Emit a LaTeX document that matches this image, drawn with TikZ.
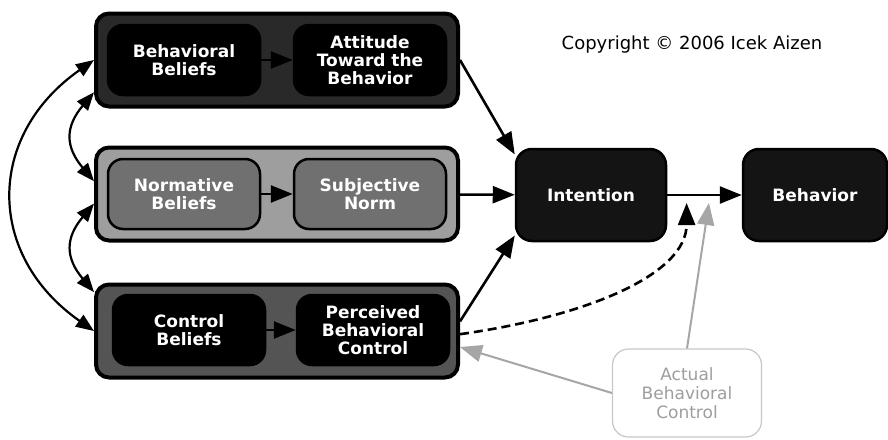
\documentclass[tikz,border=0pt]{standalone}
\usepackage{fontspec}
\setmainfont{DejaVu Sans}
\usetikzlibrary{arrows.meta,calc}
\begin{document}
\begin{tikzpicture}[
    x=1pt, y=-1pt,
    every node/.style={align=center, font=\fontsize{17}{18}\selectfont\bfseries},
    outerbox/.style={draw=black, line width=4pt, rounded corners=13pt,
        minimum width=362pt, minimum height=93pt},
    innerbox/.style={draw=black, line width=2.5pt, rounded corners=15pt,
        minimum width=152pt, minimum height=70pt, text=white, inner sep=2pt},
    bigbox/.style={draw=black, line width=2.5pt, fill=black!92, rounded corners=16pt,
        minimum width=150pt, minimum height=92pt, text=white},
    link/.style={line width=2.6pt, -{Triangle[length=22pt,width=17pt]}},
    both/.style={line width=2.2pt, {Triangle[length=18pt,width=14pt]}-{Triangle[length=18pt,width=14pt]}},
    ]
    \useasboundingbox (0,0) rectangle (888,439);
    \node[outerbox, fill=black!84] (attbox) at (277,60) {};
    \node[innerbox, fill=black] (bb) at (184,60) {Behavioral\\Beliefs};
    \node[innerbox, fill=black] (att) at (370,60) {Attitude\\Toward the\\Behavior};
    \node[outerbox, fill=black!38] (normbox) at (277,194) {};
    \node[innerbox, fill=black!56] (nb) at (184,194) {Normative\\Beliefs};
    \node[innerbox, fill=black!56] (sn) at (370,194) {Subjective\\Norm};
    \node[outerbox, fill=black!67] (ctrlbox) at (277,331) {};
    \node[innerbox, fill=black] (cb) at (189,330) {Control\\Beliefs};
    \node[innerbox, fill=black] (pbc) at (373,330) {Perceived\\Behavioral\\Control};
    \node[bigbox] (int) at (591,195) {Intention};
    \node[bigbox, minimum width=144pt] (beh) at (815,195) {Behavior};
    \node[draw=black!22, line width=1.2pt, rounded corners=16pt, fill=white,
        minimum width=149pt, minimum height=88pt, text=black!38,
        font=\fontsize{17}{19}\selectfont] (act) at (687,393) {Actual\\Behavioral\\Control};
    \node[font=\fontsize{18}{20}\selectfont] (copy) at (692,45) {Copyright © 2006 Icek Aizen};
    % arrows
    \draw[link] (bb) -- (att);
    \draw[link] (nb) -- (sn);
    \draw[link] (cb) -- (pbc);
    \draw[link] (attbox.east) -- (int.152);
    \draw[link] (normbox) -- (int);
    \draw[link] (ctrlbox.3) -- (int.208);
    \draw[link] (int) -- (beh);
    \coordinate (mod1) at ($(int.east)!0.26!(beh.west)+(0,8)$);
    \coordinate (mod2) at ($(int.east)!0.56!(beh.west)+(0,8)$);
    \draw[link, dash pattern=on 9pt off 5pt] (ctrlbox.-1)
        to[out=8,in=-90,out looseness=1.25,in looseness=0.7] (mod1);
    \draw[link, color=black!35, line width=2pt] (act.north) -- (mod2);
    \draw[link, color=black!35, line width=2pt] (act.west) -- (ctrlbox.-5);
    \draw[both] (attbox.west) to[out=215,in=145,looseness=1.25] (ctrlbox.west);
    \draw[both] (attbox.190) to[out=230,in=130,looseness=1.3] (normbox.176);
    \draw[both] (normbox.183) to[out=230,in=130,looseness=1.3] (ctrlbox.168);
\end{tikzpicture}
\end{document}
